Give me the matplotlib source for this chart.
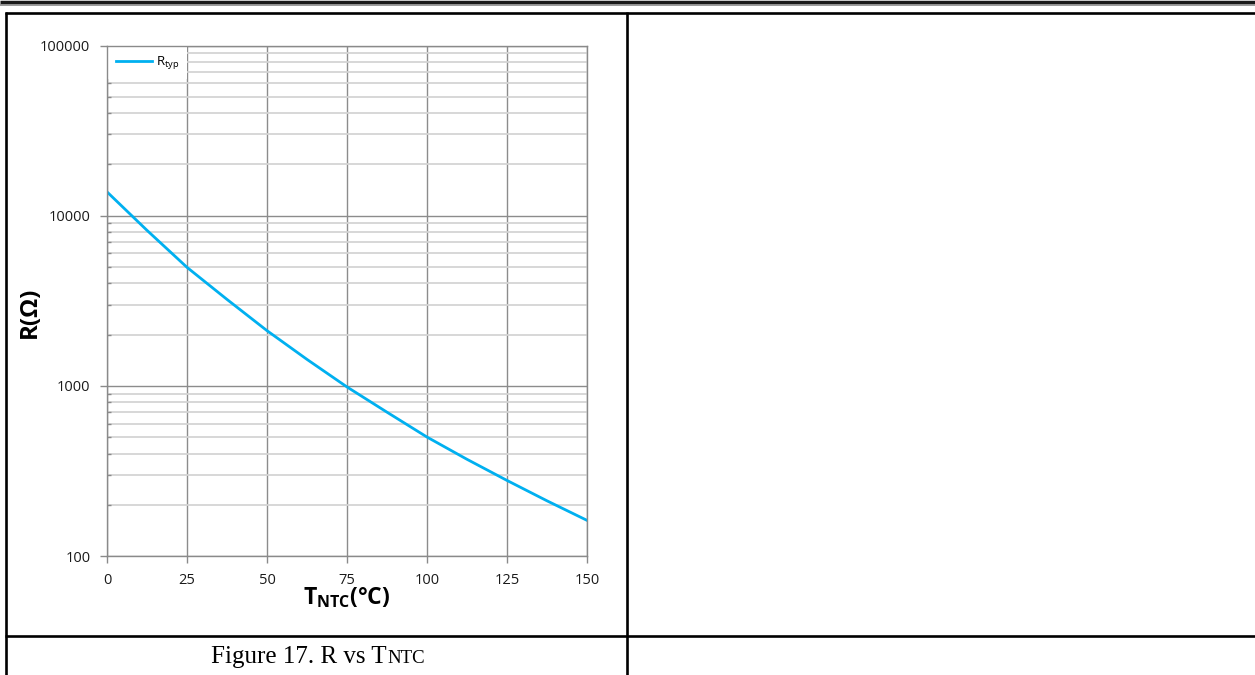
import matplotlib
matplotlib.use("Agg")

import matplotlib.pyplot as plt
from matplotlib.ticker import FixedLocator, FuncFormatter, LogLocator, NullFormatter


# values
temp_c = [0, 12.5, 25, 37.5, 50, 62.5, 75, 87.5, 100, 112.5, 125, 137.5, 150]
r_typ = [13800, 8200, 4970, 3220, 2110, 1430, 985, 700, 500, 370, 278, 211, 162]

x_ticks = [0, 25, 50, 75, 100, 125, 150]
y_ticks = [100, 1000, 10000, 100000]

x_label = "T$_{\\mathbf{NTC}}$(°C)"
y_label = "R(Ω)"
legend_label = "R$_{\\mathrm{typ}}$"
caption_main = "Figure 17. R vs T"
caption_sub = "NTC"

W = 1255
H = 675


def draw_page_lines(page):
    '''
    table rules of the datasheet page, in pixel coords
    '''

    # double rule on top
    page.plot([0, W], [1.7, 1.7], color="#1a1a1a", lw=2.5, solid_capstyle="butt")
    page.plot([0, W], [5.0, 5.0], color="#808080", lw=1.1, solid_capstyle="butt")

    black = dict(color="black", lw=1.9, solid_capstyle="butt")

    page.plot([5, W], [12.5, 12.5], **black)
    page.plot([5.5, 5.5], [11.5, H], **black)
    page.plot([626.5, 626.5], [11.5, H], **black)
    page.plot([5, W], [636, 636], **black)


def plot_r_vs_t(fig):
    '''
    log plot of ntc resistance vs temperature
    '''

    ax = fig.add_axes(
        [107 / W, (H - 556) / H, 480 / W, 510.5 / H],
        zorder=1,
    )

    ax.plot(
        temp_c,
        r_typ,
        color="#00b0f0",
        lw=2.0,
        label=legend_label,
        zorder=3,
    )

    ax.set_yscale("log")
    ax.set_xlim(0, 150)
    ax.set_ylim(100, 100000)

    ax.xaxis.set_major_locator(FixedLocator(x_ticks))
    ax.yaxis.set_major_locator(FixedLocator(y_ticks))
    ax.yaxis.set_minor_locator(LogLocator(base=10, subs=range(2, 10)))
    ax.yaxis.set_major_formatter(FuncFormatter(lambda v, p: f"{int(round(v))}"))
    ax.yaxis.set_minor_formatter(NullFormatter())

    ax.grid(which="major", axis="x", color="#8c8c8c", lw=1.0)
    ax.grid(which="major", axis="y", color="#8c8c8c", lw=1.0)
    ax.grid(which="minor", axis="y", color="#d4d4d4", lw=1.3)
    ax.set_axisbelow(True)

    for s in ax.spines.values():
        s.set_color("#8a8a8a")
        s.set_linewidth(1.0)
        s.set_zorder(6)

    ax.tick_params(
        which="major",
        direction="out",
        length=5,
        width=1,
        color="#8a8a8a",
        labelsize=10.5,
        labelcolor="#1a1a1a",
        pad=7,
    )
    ax.tick_params(
        which="minor",
        direction="in",
        length=3,
        width=1,
        color="#8a8a8a",
    )

    ax.set_xlabel(x_label, fontsize=16.5, fontweight="bold", color="black")
    ax.xaxis.set_label_coords(0.5, -0.058)

    ax.set_ylabel(y_label, fontsize=17.5, fontweight="bold", color="black")
    ax.yaxis.set_label_coords(-0.135, 0.478)

    leg = ax.legend(
        loc="upper left",
        bbox_to_anchor=(0.003, 0.998),
        borderaxespad=0.0,
        borderpad=0.6,
        handlelength=2.7,
        handletextpad=0.3,
        fontsize=9.5,
        frameon=True,
        fancybox=False,
        framealpha=1.0,
        facecolor="white",
        edgecolor="none",
    )
    leg.set_zorder(5)

    return ax


def main():

    plt.rcParams["font.family"] = ["Open Sans", "DejaVu Sans"]
    plt.rcParams["mathtext.fontset"] = "custom"
    plt.rcParams["mathtext.rm"] = "Open Sans"
    plt.rcParams["mathtext.bf"] = "Open Sans:bold"
    plt.rcParams["mathtext.it"] = "Open Sans:italic"

    fig = plt.figure(figsize=(W / 100, H / 100), dpi=100)
    fig.patch.set_facecolor("white")

    page = fig.add_axes([0, 0, 1, 1], zorder=0)
    page.set_xlim(0, W)
    page.set_ylim(H, 0)
    page.axis("off")

    draw_page_lines(page)

    plot_r_vs_t(fig)

    # caption, "NTC" set smaller on the same baseline
    t1 = page.text(
        0, 662.7, caption_main,
        family="Liberation Serif", fontsize=18,
        ha="left", va="baseline",
    )
    t2 = page.text(
        0, 662.7, caption_sub,
        family="Liberation Serif", fontsize=13.5,
        ha="left", va="baseline",
    )

    fig.canvas.draw()
    renderer = fig.canvas.get_renderer()
    w1 = t1.get_window_extent(renderer).width
    w2 = t2.get_window_extent(renderer).width
    x0 = 318 - (w1 + w2) / 2
    t1.set_x(x0)
    t2.set_x(x0 + w1)

    fig.savefig("out.png", dpi=100)
    plt.close(fig)


if __name__ == "__main__":
    main()
